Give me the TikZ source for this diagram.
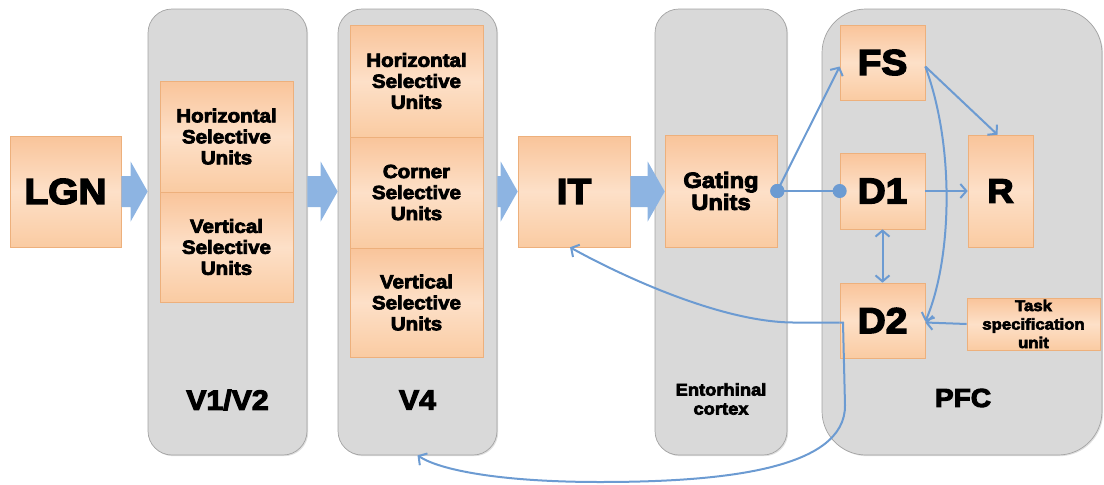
\documentclass[tikz,border=0pt]{standalone}
\usepackage{fontspec}
\newfontfamily\lblfont[FakeStretch=1.08,FakeBold=4]{Liberation Sans}
\usetikzlibrary{arrows.meta,shadows,calc}
\definecolor{panelgray}{HTML}{D9D9D9}
\definecolor{paneledge}{HTML}{A3A3A3}
\definecolor{unittop}{HTML}{F9C49A}
\definecolor{unitmid}{HTML}{FDE0C8}
\definecolor{unitbot}{HTML}{FACBA2}
\definecolor{unitedge}{HTML}{EDB07C}
\definecolor{fatblue}{HTML}{8DB4E2}
\definecolor{linkblue}{HTML}{6C9BD2}

% broad block arrow between two points on the same row
\newcommand\fatarrow[2]{%
  \fill[fatblue] let \p1=(#1), \p2=(#2) in
    (\x1,\y1+15.5pt) -- (\x2-17pt,\y1+15.5pt) -- (\x2-17pt,\y1+30pt) --
    (\x2,\y1) -- (\x2-17pt,\y1-30pt) -- (\x2-17pt,\y1-15.5pt) --
    (\x1,\y1-15.5pt) -- cycle;}

\tikzset{
  panel/.style={draw=paneledge, fill=panelgray, line width=0.7pt,
    rounded corners=24pt, inner sep=0pt,
    drop shadow={opacity=0.25, shadow xshift=1.2pt, shadow yshift=-1.2pt}},
  unit/.style={draw=unitedge, line width=0.6pt,
    top color=unittop, bottom color=unitbot, middle color=unitmid,
    inner sep=0pt, align=center,
    drop shadow={opacity=0.22, shadow xshift=1pt, shadow yshift=-1.2pt}},
  big/.style={font=\lblfont\bfseries\fontsize{36}{36}\selectfont},
  mid/.style={font=\lblfont\bfseries\fontsize{19}{21}\selectfont},
  area/.style={font=\lblfont\bfseries\fontsize{28}{28}\selectfont, inner sep=0pt},
  barb/.tip={Straight Barb[length=6pt,width=14pt]},
  dot/.tip={Circle[length=14pt,width=14pt]},
  link/.style={draw=linkblue, line width=2pt, -barb},
}

\begin{document}
\begin{tikzpicture}[x=1pt,y=-1pt]
\useasboundingbox (0,0) rectangle (1104,485);

% cortical areas
\node[panel, minimum width=159pt, minimum height=446pt] (p12) at (227.5,232) {};
\node[panel, minimum width=159pt, minimum height=446pt] (p4) at (417.5,232) {};
\node[panel, minimum width=132pt, minimum height=446pt] (pent) at (721,232) {};
\node[panel, rounded corners=44pt, minimum width=280pt, minimum height=446pt] (pfc) at (962,232) {};

% units
\node[unit, big, minimum width=111pt, minimum height=111pt] (lgn) at (65.5,191.5) {LGN};
\node[unit, mid, minimum width=133pt, minimum height=111pt] (h12) at (226.5,136.5) {Horizontal\\Selective\\Units};
\node[unit, mid, minimum width=133pt, minimum height=110pt] (v12) at (226.5,247) {Vertical\\Selective\\Units};
\node[unit, mid, minimum width=133pt, minimum height=112pt] (h4) at (416.5,81) {Horizontal\\Selective\\Units};
\node[unit, mid, minimum width=133pt, minimum height=111pt] (c4) at (416.5,192.5) {Corner\\Selective\\Units};
\node[unit, mid, minimum width=133pt, minimum height=109pt] (v4) at (416.5,302.5) {Vertical\\Selective\\Units};
\node[unit, big, minimum width=112pt, minimum height=111pt] (it) at (574,191.5) {IT};
\node[unit, font=\lblfont\bfseries\fontsize{22}{22}\selectfont, minimum width=112pt, minimum height=112pt] (gate) at (721,191) {Gating\\Units};
\node[unit, big, minimum width=85pt, minimum height=75pt] (fs) at (882.5,62.5) {FS};
\node[unit, big, minimum width=85pt, minimum height=76pt] (d1) at (882.5,191) {D1};
\node[unit, font=\lblfont\bfseries\fontsize{34}{34}\selectfont, minimum width=65pt, minimum height=112pt] (r) at (1000.5,191) {R};
\node[unit, big, minimum width=85pt, minimum height=75pt] (d2) at (882.5,320.5) {D2};
\node[unit, font=\lblfont\bfseries\fontsize{15.5}{18.5}\selectfont, minimum width=133pt, minimum height=52pt] (task) at (1033.5,324) {Task\\specification\\unit};

% area names
\node[area] (n12) at (227.5,400) {V1/V2};
\node[area] (n4) at (417.5,400) {V4};
\node[font=\lblfont\bfseries\fontsize{17}{19}\selectfont, align=center, inner sep=0pt] (nent) at (721,399) {Entorhinal\\cortex};
\node[font=\lblfont\bfseries\fontsize{26}{26}\selectfont, inner sep=0pt] (npfc) at (963,398) {PFC};

% feed-forward stream
\fatarrow{lgn.east}{p12.west |- lgn.east}
\fatarrow{p12.east |- lgn.east}{p4.west |- lgn.east}
\fatarrow{p4.east |- lgn.east}{it.west}
\fatarrow{it.east}{gate.west}

% gating and prefrontal connections
\draw[link, dot-barb, shorten <=-7pt] (gate.east) -- ([yshift=-4pt]fs.west);
\draw[link, dot-dot, shorten <=-7pt, shorten >=-7pt] (gate.east) -- (d1.west);
\draw[link] (d1.east) -- (r.west);
\draw[link] ([yshift=-4pt]fs.east) -- ([xshift=-3pt]r.north);
\draw[link] ([yshift=-4pt]fs.east) .. controls (956,150) and (951,262) .. ([yshift=-1pt]d2.east);
\draw[link, barb-barb] (d1.south) -- (d2.north);
\draw[link] (task.west) -- ([yshift=-2pt]d2.east);

% feedback to IT and V4
\draw[link] ([yshift=-2pt]d2.west) -- (793,322.5)
  .. controls (720,322) and (620,275) .. ([xshift=-4pt]it.south);
\draw[link] ([yshift=-2pt]d2.west) -- (843,322.5) -- (845,405)
  .. controls (846,470) and (720,482) .. (600,482)
  .. controls (500,482) and (440,470) .. (p4.south);
\end{tikzpicture}
\end{document}
